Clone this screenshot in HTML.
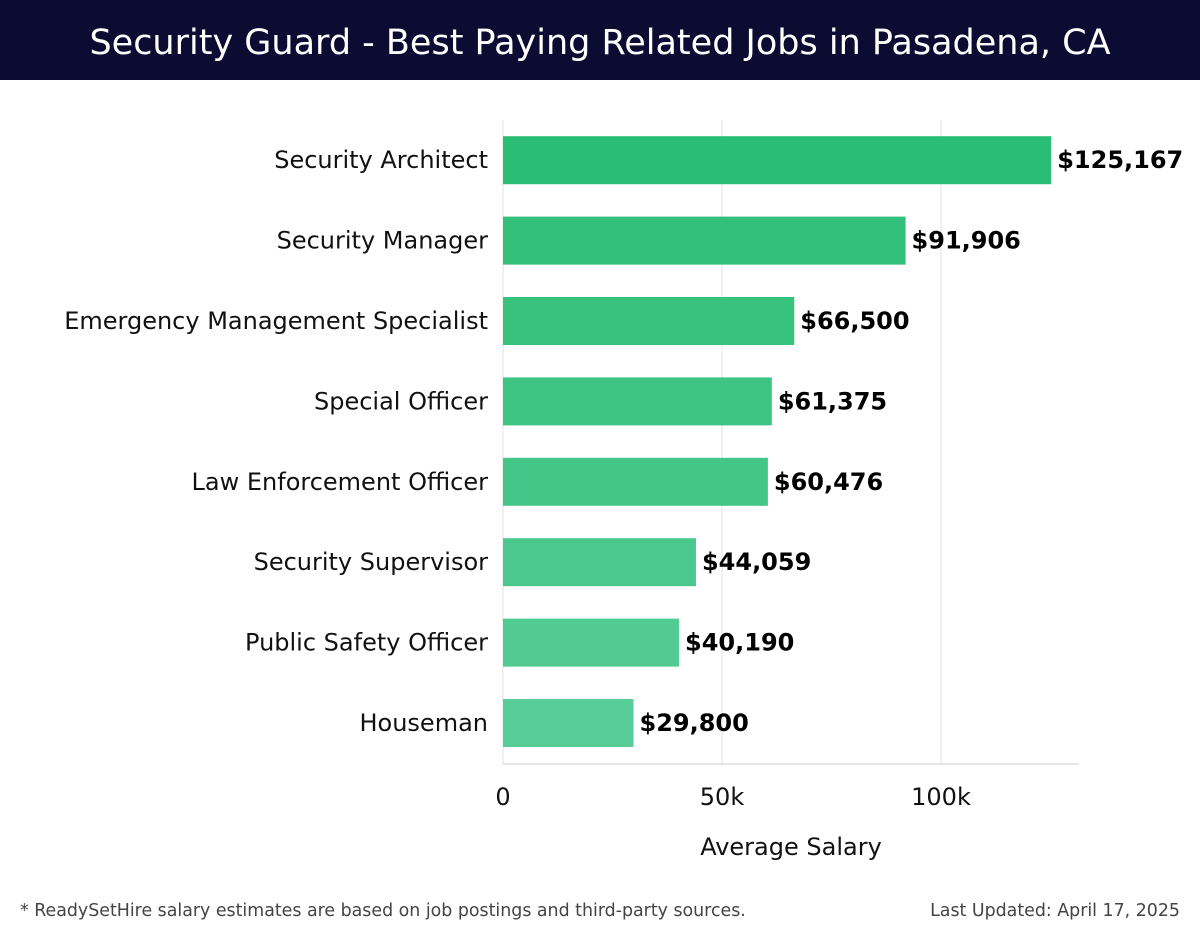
<!DOCTYPE html>
<html><head><meta charset="utf-8"><style>
body{margin:0;width:1200px;height:940px;background:#fff;font-family:"Liberation Sans","DejaVu Sans",sans-serif;overflow:hidden;position:relative}
#hdr{position:absolute;left:0;top:0;width:1200px;height:80px;background:#0c0c33;color:#fff;font-size:35px;text-align:center;line-height:86px;font-family:"DejaVu Sans","Liberation Sans",sans-serif;font-weight:normal}
.foot{position:absolute;top:901px;font-size:17.4px;color:#444;font-family:"DejaVu Sans",sans-serif}
</style></head><body>
<div id="hdr">Security Guard - Best Paying Related Jobs in Pasadena, CA</div>
<svg id="chart" width="1200" height="900" style="position:absolute;left:0;top:0"></svg>
<div class="foot" style="left:20px">* ReadySetHire salary estimates are based on job postings and third-party sources.</div>
<div class="foot" style="right:20px">Last Updated: April 17, 2025</div>
<script>
const categories=["Security Architect","Security Manager","Emergency Management Specialist","Special Officer","Law Enforcement Officer","Security Supervisor","Public Safety Officer","Houseman"];
const salaries=[125167,91906,66500,61375,60476,44059,40190,29800];
const tickValues=[0,50000,100000];
const tickLabels=["0","50k","100k"];
const NS="http://www.w3.org/2000/svg";
const svg=document.getElementById('chart');
const x0=503,pxPer=219/50000,top0=120,step=80.4,bh=48;
const xs=v=>x0+v*pxPer;
const yc=i=>top0+step*(i+0.5);
function mk(t,a){const e=document.createElementNS(NS,t);for(const k in a)e.setAttribute(k,a[k]);svg.appendChild(e);return e;}
tickValues.forEach((v,i)=>{
 const g=mk('line',{x1:xs(v),x2:xs(v),y1:top0,y2:764,stroke:'#e2e2e2','stroke-width':1});
 
 
 const t=mk('text',{x:xs(v),y:805,'text-anchor':'middle','font-size':24,fill:'#111','font-family':'DejaVu Sans, sans-serif'});
 t.textContent=tickLabels[i];
 
 
});
const ax=mk('line',{x1:x0,x2:1079,y1:764,y2:764,stroke:'#ccc','stroke-width':1});


const at=mk('text',{x:791,y:855,'text-anchor':'middle','font-size':24,fill:'#111','font-family':'DejaVu Sans, sans-serif'});
at.textContent='Average Salary';


const c0=[42,189,116],c1=[88,205,151];
categories.forEach((c,i)=>{
 const f=i/(categories.length-1);
 const col=`rgb(${c0.map((v,k)=>Math.round(v+(c1[k]-v)*f)).join(',')})`;
 const r=mk('rect',{x:x0,y:yc(i)-bh/2,width:xs(salaries[i])-x0,height:bh,fill:col});
 
 
 const l=mk('text',{x:488,y:yc(i)+8,'text-anchor':'end','font-size':24,fill:'#111','font-family':'DejaVu Sans, sans-serif'});
 l.textContent=c;
 
 
 const v=mk('text',{x:xs(salaries[i])+6,y:yc(i)+8,'font-size':24,'font-weight':'bold',fill:'#000','font-family':'DejaVu Sans, sans-serif'});
 v.textContent='$'+salaries[i].toLocaleString('en-US');
 
 
});
</script>
</body></html>
